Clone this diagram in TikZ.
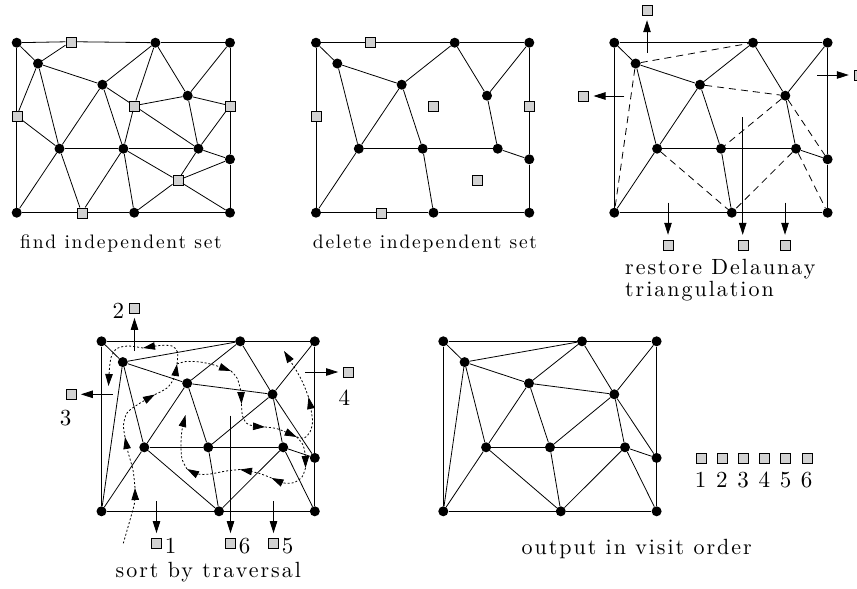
\documentclass[tikz,border=0pt]{standalone}
\usepackage{fontspec}
\setmainfont{lmroman10-regular.otf}
\usepackage{tikz}
\usetikzlibrary{arrows.meta,positioning}

% vertices of the mesh, #1 = prefix of the panel
\newcommand{\meshdots}[1]{%
  \foreach \n/\x/\y in {tl/0/0,tm/138.7/0,tr/213.3/0,a/21.3/20.8,b/85.7/42,c/171/53,
      e/42.8/106,f/106.7/106,g/181.7/106,h/213.3/116.6,bl/0/170,bm/117.5/170,br/213.3/170}
    \node[vtx] (#1\n) at (\x,\y) {};}
\newcommand{\keptedges}{tl/tm,tm/tr,tr/h,h/br,bl/bm,bm/br,tl/bl,tl/a,a/b,a/e,b/tm,b/e,b/f,
  tm/c,c/tr,c/g,e/f,f/g,g/h,e/bl,f/bm}
\newcommand{\newedges}{a/tm,a/bl,b/c,c/f,c/h,e/bm,g/bm,g/br}

\begin{document}
\begin{tikzpicture}[x=1pt,y=-1pt,
  vtx/.style={circle,fill=black,inner sep=0pt,minimum size=10pt},
  sq/.style={draw,fill=gray!35,inner sep=0pt,minimum size=10pt},
  meshedge/.style={line width=0.8pt},
  newedge/.style={line width=0.8pt,dash pattern=on 7pt off 5pt},
  outarrow/.style={line width=0.8pt,-{Triangle[length=12pt,width=7.5pt]},shorten >=5pt},
  trav/.style={line width=0.8pt,dash pattern=on 2pt off 2pt,-{Triangle[length=12pt,width=7.5pt]}},
  captxt/.style={font=\fontsize{#1}{#1}\selectfont\addfontfeatures{LetterSpace=9},inner sep=0pt},
  captxt/.default=19.5,
  numtxt/.style={font=\fontsize{23}{23}\selectfont,inner sep=0pt}]
  \useasboundingbox (0,0) rectangle (857,589);

  % find independent set
  \begin{scope}[shift={(16.7,42.7)}]
    \meshdots{p}
    \foreach \n/\x/\y in {q1/54/-1,q2/0/73.3,q3/117.5/63,q4/213.3/63,q5/161/137.7,q6/65/170}
      \node[sq] (p\n) at (\x,\y) {};
    \foreach \u/\v in {tl/q1,q1/tm,tm/tr,tl/q2,q2/bl,tr/q4,q4/h,h/br,bl/q6,q6/bm,bm/br,
        tl/a,a/q1,a/b,a/q2,a/e,b/tm,b/q3,b/e,b/f,tm/q3,tm/c,q3/c,q3/f,q3/g,
        c/tr,c/q4,c/g,q4/g,q2/e,e/f,f/g,g/h,e/bl,e/q6,f/q6,f/bm,f/q5,g/q5,q5/h,q5/bm,q5/br}
      \draw[meshedge] (p\u) -- (p\v);
  \end{scope}
  \node[captxt] (cap1) at (121,243.5) {find independent set};

  % delete independent set
  \begin{scope}[shift={(316,42.7)}]
    \meshdots{d}
    \foreach \u/\v in \keptedges
      \draw[meshedge] (d\u) -- (d\v);
    \foreach \n/\x/\y in {q1/54/-1,q2/0/73.3,q3/117.5/63,q4/213.3/63,q5/161/137.7,q6/65/170}
      \node[sq] (d\n) at (\x,\y) {};
  \end{scope}
  \node[captxt] (cap2) at (425,243.5) {delete independent set};

  % restore Delaunay triangulation
  \begin{scope}[shift={(614.3,42.7)}]
    \meshdots{r}
    \foreach \u/\v in \keptedges
      \draw[meshedge] (r\u) -- (r\v);
    \foreach \u/\v in \newedges
      \draw[newedge] (r\u) -- (r\v);
  \end{scope}
  \foreach \n/\x/\y/\sx/\sy in {1/647/10/647/52.7,2/583.3/96/624.3/96,3/859/75/817.3/75,
      4/668/245/668/202.7,5/742.7/245/742.7/117.3,6/785/245/785/202.7}{
    \node[sq] (rq\n) at (\x,\y) {};
    \coordinate (rs\n) at (\sx,\sy);
    \draw[outarrow] (rs\n) -- (rq\n);
  }
  \node[captxt=22,align=left,anchor=north west] (cap3) at (625,259)
    {restore Delaunay\\triangulation};

  % sort by traversal
  \begin{scope}[shift={(101.5,341.3)}]
    \meshdots{s}
    \foreach \u/\v in \keptedges
      \draw[meshedge] (s\u) -- (s\v);
    \foreach \u/\v in \newedges
      \draw[meshedge] (s\u) -- (s\v);
  \end{scope}
  \foreach \n/\x/\y/\sx/\sy in {1/156.5/543.3/156.5/501,2/134.5/307.7/134.5/351,
      3/70.7/394.3/112.7/394.3,4/348.3/372/305/372,5/273.5/543.3/273.5/501,
      6/230.5/543.3/230.5/415.7}{
    \node[sq] (t\n) at (\x,\y) {};
    \coordinate (ts\n) at (\sx,\sy);
    \draw[outarrow] (ts\n) -- (t\n);
  }
  \node[numtxt,right=3pt of t1.north east,anchor=north west] (tn1) {1};
  \node[numtxt,left=5pt of t2.north west,anchor=north east] (tn2) {2};
  \node[numtxt,below=10pt of t3,xshift=-5pt] (tn3) {3};
  \node[numtxt,below=13pt of t4,xshift=-4pt] (tn4) {4};
  \node[numtxt,right=3pt of t5.north east,anchor=north west] (tn5) {5};
  \node[numtxt,right=3pt of t6.north east,anchor=north west] (tn6) {6};
  % traversal
  \draw[trav] plot[smooth] coordinates {(123.3,543.3) (130,520) (134.5,503) (135,488)};
  \draw[trav] plot[smooth] coordinates {(135,488) (133,470) (128,452) (125,437)};
  \draw[trav] plot[smooth] coordinates {(125,437) (123.5,425) (127,413) (137,405) (155,394.5)};
  \draw[trav] plot[smooth] coordinates {(155,394.5) (167,388) (174,378) (177,364)};
  \draw[trav] plot[smooth] coordinates {(177,364) (177.5,352) (172,346) (160,345.5) (143,348)};
  \draw[trav] plot[smooth] coordinates {(143,348) (128,346) (117,348.5) (111.5,356) (109.5,368) (108.5,386)};
  \draw[trav] plot[smooth] coordinates {(177,364) (186,361.5) (200,362) (214,365) (231,371)};
  \draw[trav] plot[smooth] coordinates {(231,371) (237,378) (240.5,390) (241.5,404)};
  \draw[trav] plot[smooth] coordinates {(241.5,404) (242.5,416) (247,423.5) (254,426) (265,427)};
  \draw[trav] plot[smooth] coordinates {(265,427) (278,429) (296.7,437)};
  \draw[trav] plot[smooth] coordinates {(296.7,437) (304,438) (310,432) (312.5,420) (308.5,397)};
  \draw[trav] plot[smooth] coordinates {(308.5,397) (303,383) (296,370) (284,351)};
  \draw[trav] plot[smooth] coordinates {(296.7,437) (302.5,444) (305,453) (305.5,468)};
  \draw[trav] plot[smooth] coordinates {(305.5,468) (302,477) (294,482.5) (284,483) (271.5,478)};
  \draw[trav] plot[smooth] coordinates {(271.5,478) (258,473) (240,469.5)};
  \draw[trav] plot[smooth] coordinates {(240,469.5) (226,471) (210,474) (198,474) (187,469)};
  \draw[trav] plot[smooth] coordinates {(187,469) (182,459) (181,445) (182,430) (185.5,415)};
  \node[captxt=22] (cap4) at (208.3,572.5) {sort by traversal};

  % output in visit order
  \begin{scope}[shift={(443.3,341.3)}]
    \meshdots{o}
    \foreach \u/\v in \keptedges
      \draw[meshedge] (o\u) -- (o\v);
    \foreach \u/\v in \newedges
      \draw[meshedge] (o\u) -- (o\v);
  \end{scope}
  \foreach \i in {1,...,6}{
    \node[sq] (ord\i) at ({700.7+21.2*(\i-1)},458.3) {};
    \node[numtxt,below=8pt of ord\i] (ordn\i) {\i};
  }
  \node[captxt=22] (cap5) at (636.7,549) {output in visit order};
\end{tikzpicture}
\end{document}
